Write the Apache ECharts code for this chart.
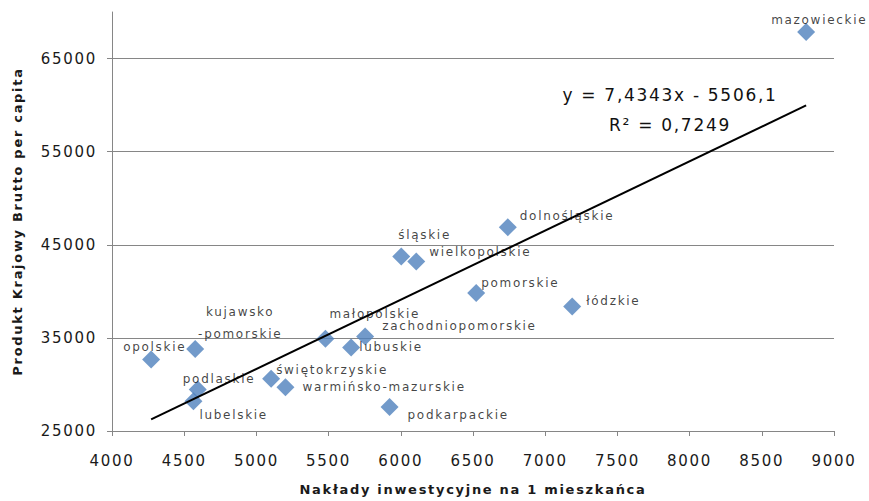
<!DOCTYPE html>
<html>
<head>
<meta charset="utf-8">
<script src="https://cdn.jsdelivr.net/npm/echarts@6/dist/echarts.min.js"></script>
<style>
  html, body { margin: 0; padding: 0; background: #fff; }
  #main { width: 869px; height: 501px; }
  #main svg text { letter-spacing: 1.7px; }
</style>
</head>
<body>
<div id="main"></div>
<script>
// ---- data ----
const regions = ['mazowieckie', 'dolnośląskie', 'śląskie', 'wielkopolskie', 'pomorskie', 'łódzkie',
  'małopolskie', 'zachodniopomorskie', 'lubuskie', 'kujawsko-pomorskie', 'opolskie', 'podlaskie',
  'lubelskie', 'świętokrzyskie', 'warmińsko-mazurskie', 'podkarpackie'];
const investmentPerResident = [8807, 6741, 6003, 6107, 6522, 7187, 5478, 5753, 5656, 4576, 4271, 4594,
  4564, 5102, 5201, 5922];
const gdpPerCapita = [67860, 46890, 43740, 43200, 39820, 38380, 34920, 35160, 33980, 33810, 32670, 29450,
  28200, 30600, 29700, 27590];
const trendX = [4271, 8807];
const trendY = [26250, 59970];
const xTicks = [4000, 4500, 5000, 5500, 6000, 6500, 7000, 7500, 8000, 8500, 9000];
const yTicks = [25000, 35000, 45000, 55000, 65000];
const equationText = 'y = 7,4343x - 5506,1';
const r2Text = 'R² = 0,7249';
const xTitle = 'Nakłady inwestycyjne na 1 mieszkańca';
const yTitle = 'Produkt Krajowy Brutto per capita';

// ---- label placement (layout only) ----
const labelPlacement = {
  'mazowieckie': ['left', -35, -12],
  'dolnośląskie': ['left', 12, -11],
  'śląskie': ['left', -3, -22],
  'wielkopolskie': ['left', 13, -10],
  'pomorskie': ['left', 5, -10],
  'łódzkie': ['left', 14, -5],
  'małopolskie': ['left', 4, -25],
  'zachodniopomorskie': ['left', 17, -10],
  'lubuskie': ['left', 8, 0],
  'kujawsko-pomorskie': ['center', 45, -26],
  'opolskie': ['left', -28, -13],
  'podlaskie': ['left', -15, -11],
  'lubelskie': ['left', 6, 14],
  'świętokrzyskie': ['left', 5, -9],
  'warmińsko-mazurskie': ['left', 17, 0],
  'podkarpackie': ['left', 18, 8]
};

const points = regions.map((name, i) => {
  const p = labelPlacement[name];
  return {
    name: name,
    value: [investmentPerResident[i], gdpPerCapita[i]],
    label: { align: p[0], offset: [p[1], p[2]] }
  };
});

const FONT = "'DejaVu Sans', sans-serif";
const plain = v => String(v);
const chart = echarts.init(document.getElementById('main'), null, { renderer: 'svg' });
chart.setOption({
  animation: false,
  textStyle: { fontFamily: FONT },
  grid: { left: 112, right: 35, top: 12, bottom: 69, containLabel: false },
  xAxis: {
    type: 'value', min: xTicks[0], max: xTicks[xTicks.length - 1], interval: 500,
    name: xTitle, nameLocation: 'middle', nameGap: 52,
    nameTextStyle: { fontSize: 13, fontWeight: 'bold', color: '#1a1a1a', fontFamily: FONT },
    axisLine: { lineStyle: { color: '#868686', width: 1 } },
    axisTick: { show: true, length: 5, lineStyle: { color: '#868686' } },
    axisLabel: { fontSize: 15, color: '#1a1a1a', margin: 22, fontFamily: FONT, formatter: plain },
    splitLine: { show: false }
  },
  yAxis: {
    type: 'value', min: 25000, max: 70000, interval: 10000,
    name: yTitle, nameLocation: 'middle', nameGap: 88, nameRotate: 90,
    nameTextStyle: { fontSize: 13, fontWeight: 'bold', color: '#1a1a1a', fontFamily: FONT },
    axisLine: { show: true, lineStyle: { color: '#868686', width: 1 } },
    axisTick: { show: true, length: 5, lineStyle: { color: '#868686' }, customValues: yTicks },
    axisLabel: { fontSize: 15, color: '#1a1a1a', margin: 15, fontFamily: FONT, customValues: yTicks, formatter: plain },
    splitLine: { show: true, showMinLine: false, lineStyle: { color: '#868686', width: 1 } }
  },
  graphic: [
    { type: 'text', x: 670, y: 95, z: 10,
      style: { text: equationText, font: "17px 'DejaVu Sans'", fill: '#111', textAlign: 'center', textVerticalAlign: 'middle' } },
    { type: 'text', x: 670, y: 125, z: 10,
      style: { text: r2Text, font: "17px 'DejaVu Sans'", fill: '#111', textAlign: 'center', textVerticalAlign: 'middle' } }
  ],
  series: [
    {
      type: 'scatter',
      symbol: 'diamond',
      symbolSize: 18,
      itemStyle: { color: '#4F81BD' },
      data: points,
      z: 2,
      label: {
        show: true, position: 'inside', verticalAlign: 'middle',
        fontSize: 12, color: '#111', fontFamily: FONT, lineHeight: 22,
        formatter: p => p.name === 'kujawsko-pomorskie' ? 'kujawsko\n-pomorskie' : p.name
      },
      emphasis: { disabled: true }
    },
    {
      type: 'line',
      data: trendX.map((x, i) => [x, trendY[i]]),
      symbol: 'none',
      lineStyle: { color: '#000', width: 2 },
      z: 3,
      silent: true
    }
  ]
});
</script>
</body>
</html>
